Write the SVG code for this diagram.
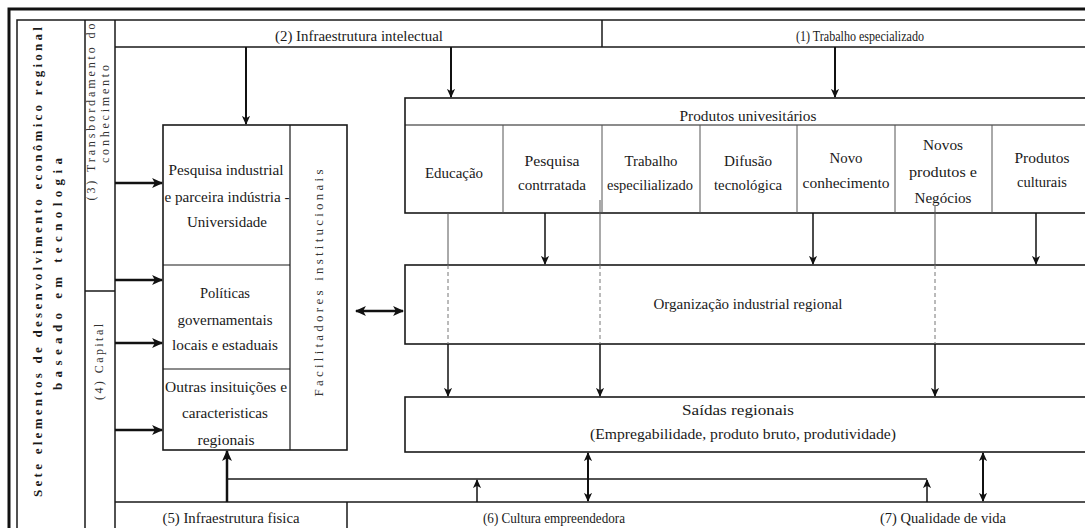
<svg xmlns="http://www.w3.org/2000/svg" width="1085" height="528" viewBox="0 0 1085 528">
  <style>
    .frame{fill:none;stroke:#1a1a1a;stroke-width:1.5}
    .heavy{fill:none;stroke:#111;stroke-width:3}
    .box{fill:#fff;stroke:#1a1a1a;stroke-width:1.6}
    .cell{fill:none;stroke:#555;stroke-width:1}
    .t{font-family:"Liberation Serif","Times New Roman","DejaVu Serif",serif;font-size:15px;fill:#1a1a1a;text-anchor:middle}
    .s{font-size:14px}
    .v{font-family:"Liberation Serif","Times New Roman","DejaVu Serif",serif;font-size:12px;fill:#333;text-anchor:middle}
    .vb{font-family:"Liberation Serif","Times New Roman","DejaVu Serif",serif;font-size:13px;font-weight:bold;fill:#1a1a1a;text-anchor:middle}
    .arr{fill:none;stroke:#111;stroke-width:2;marker-end:url(#ah)}
    .arr-b{fill:none;stroke:#111;stroke-width:2.5;marker-end:url(#ahb)}
    .arr-t{fill:none;stroke:#111;stroke-width:1.5;marker-end:url(#ah)}
    .dbl{fill:none;stroke:#111;stroke-width:2;marker-start:url(#ah);marker-end:url(#ah)}
    .dbl-b{fill:none;stroke:#111;stroke-width:2.5;marker-start:url(#ahb);marker-end:url(#ahb)}
    .link{fill:none;stroke:#555;stroke-width:1}
    .dash{fill:none;stroke:#777;stroke-width:1;stroke-dasharray:4 3}
  </style>
  <defs>
    <marker id="ah" viewBox="0 0 10 10" refX="9" refY="5" markerWidth="9" markerHeight="9" markerUnits="userSpaceOnUse" orient="auto-start-reverse">
      <path d="M0,0.5 L10,5 L0,9.5 L2.5,5 z" fill="#111"/>
    </marker>
    <marker id="ahb" viewBox="0 0 10 10" refX="9" refY="5" markerWidth="11" markerHeight="11" markerUnits="userSpaceOnUse" orient="auto-start-reverse">
      <path d="M0,0.5 L10,5 L0,9.5 L2.5,5 z" fill="#111"/>
    </marker>
  </defs>

  <rect width="1085" height="528" fill="#fff"/>

  <!-- outer frame and bands -->
  <g id="frame">
    <path class="heavy" d="M9,528 V9 H1085"/>
    <path class="frame" d="M17,528 V20 H1085"/>
    <path class="frame" d="M85,20 V528 M115,20 V528 M85,291 H115"/>
    <path class="frame" d="M115,47 H1085 M602,20 V47"/>
    <path class="frame" d="M115,502 H1085 M347,502 V528"/>
  </g>

  <!-- title column -->
  <g id="titulo">
    <text class="vb" transform="translate(37,262) rotate(-90)" dy="0.35em" textLength="470" lengthAdjust="spacing">Sete elementos de desenvolvimento econômico regional</text>
    <text class="vb" transform="translate(57,274) rotate(-90)" dy="0.35em" textLength="232" lengthAdjust="spacing">baseado em tecnologia</text>
  </g>

  <g id="transbordamento">
    <text class="v" transform="translate(91,112) rotate(-90)" dy="0.35em" textLength="177" lengthAdjust="spacing">(3) Transbordamento do</text>
    <text class="v" transform="translate(105,114) rotate(-90)" dy="0.35em" textLength="98" lengthAdjust="spacing">conhecimento</text>
  </g>

  <g id="capital">
    <text class="v" transform="translate(99,362) rotate(-90)" dy="0.35em" textLength="76" lengthAdjust="spacing">(4) Capital</text>
  </g>

  <g id="infra-intelectual">
    <text class="t" x="359" y="41" textLength="168" lengthAdjust="spacingAndGlyphs">(2) Infraestrutura intelectual</text>
  </g>

  <g id="trabalho-especializado">
    <text class="t" x="860" y="41" textLength="128" lengthAdjust="spacingAndGlyphs">(1) Trabalho especializado</text>
  </g>

  <!-- left block: research, policies, other institutions, facilitators -->
  <g id="bloco-institucional">
    <rect class="box" x="163" y="125" width="184" height="325"/>
    <path class="frame" d="M290,125 V450 M163,265 H290 M163,369 H290" style="stroke-width:1.2"/>
    <text class="t" x="226" y="175" textLength="115" lengthAdjust="spacingAndGlyphs">Pesquisa industrial</text>
    <text class="t" x="227" y="202" textLength="125" lengthAdjust="spacingAndGlyphs">e parceira indústria -</text>
    <text class="t" x="227" y="227" textLength="80" lengthAdjust="spacingAndGlyphs">Universidade</text>
    <text class="t" x="225" y="298" textLength="50" lengthAdjust="spacingAndGlyphs">Políticas</text>
    <text class="t" x="225" y="325" textLength="95" lengthAdjust="spacingAndGlyphs">governamentais</text>
    <text class="t" x="225" y="350" textLength="106" lengthAdjust="spacingAndGlyphs">locais e estaduais</text>
    <text class="t" x="226" y="392" textLength="122" lengthAdjust="spacingAndGlyphs">Outras insituições e</text>
    <text class="t" x="225" y="418" textLength="86" lengthAdjust="spacingAndGlyphs">caracteristicas</text>
    <text class="t" x="226" y="445" textLength="57" lengthAdjust="spacingAndGlyphs">regionais</text>
    <text class="v" transform="translate(318,283) rotate(-90)" dy="0.35em" style="font-size:13px" textLength="227" lengthAdjust="spacing">Facilitadores institucionais</text>
  </g>

  <!-- university outputs -->
  <g id="produtos-universitarios">
    <rect class="box" x="405" y="98" width="685" height="115"/>
    <path class="frame" d="M405,125 H1090" style="stroke-width:1.2"/>
    <path class="cell" d="M503,125 V213 M602,125 V213 M700,125 V213 M797,125 V213 M895,125 V213 M992,125 V213"/>
    <text class="t" x="748" y="121" textLength="137" lengthAdjust="spacingAndGlyphs">Produtos univesitários</text>
    <text class="t" x="454" y="178" textLength="58" lengthAdjust="spacingAndGlyphs">Educação</text>
    <text class="t" x="552" y="166" textLength="55" lengthAdjust="spacingAndGlyphs">Pesquisa</text>
    <text class="t" x="552" y="190" textLength="68" lengthAdjust="spacingAndGlyphs">contrratada</text>
    <text class="t" x="651" y="166" textLength="53" lengthAdjust="spacingAndGlyphs">Trabalho</text>
    <text class="t" x="650" y="190" textLength="86" lengthAdjust="spacingAndGlyphs">especilializado</text>
    <text class="t" x="748" y="166" textLength="48" lengthAdjust="spacingAndGlyphs">Difusão</text>
    <text class="t" x="748" y="190" textLength="68" lengthAdjust="spacingAndGlyphs">tecnológica</text>
    <text class="t" x="846" y="163" textLength="33" lengthAdjust="spacingAndGlyphs">Novo</text>
    <text class="t" x="846" y="188" textLength="87" lengthAdjust="spacingAndGlyphs">conhecimento</text>
    <text class="t" x="943" y="150" textLength="40" lengthAdjust="spacingAndGlyphs">Novos</text>
    <text class="t" x="943" y="177" textLength="68" lengthAdjust="spacingAndGlyphs">produtos e</text>
    <text class="t" x="943" y="203" textLength="57" lengthAdjust="spacingAndGlyphs">Negócios</text>
    <text class="t" x="1042" y="163" textLength="55" lengthAdjust="spacingAndGlyphs">Produtos</text>
    <text class="t" x="1042" y="187" textLength="50" lengthAdjust="spacingAndGlyphs">culturais</text>
  </g>

  <g id="organizacao-industrial">
    <rect class="box" x="405" y="265" width="685" height="79"/>
    <text class="t" x="748" y="309" textLength="189" lengthAdjust="spacingAndGlyphs">Organização industrial regional</text>
  </g>

  <g id="saidas-regionais">
    <rect class="box" x="405" y="397" width="685" height="55"/>
    <text class="t" x="738" y="415" textLength="112" lengthAdjust="spacingAndGlyphs">Saídas regionais</text>
    <text class="t" x="743" y="439" textLength="306" lengthAdjust="spacingAndGlyphs">(Empregabilidade, produto bruto, produtividade)</text>
  </g>

  <g id="infra-fisica">
    <text class="t s" x="231" y="523" textLength="137" lengthAdjust="spacingAndGlyphs">(5) Infraestrutura fisica</text>
  </g>

  <g id="cultura-empreendedora">
    <text class="t s" x="554" y="523" textLength="142" lengthAdjust="spacingAndGlyphs">(6) Cultura empreendedora</text>
  </g>

  <g id="qualidade-vida">
    <text class="t s" x="943" y="523" textLength="126" lengthAdjust="spacingAndGlyphs">(7) Qualidade de vida</text>
  </g>

  <!-- connectors -->
  <g id="connectors">
    <!-- from the top bands -->
    <path class="arr" d="M246,47 V124"/>
    <path class="arr" d="M451,47 V97"/>
    <path class="arr" d="M835,47 V97"/>
    <!-- from the left columns into the institutional block -->
    <path class="arr-b" d="M115,183 H162"/>
    <path class="arr-b" d="M115,280 H162"/>
    <path class="arr-b" d="M115,343 H162"/>
    <path class="arr-b" d="M115,430 H162"/>
    <!-- facilitators to industrial organization -->
    <path class="dbl-b" d="M356,311 H403"/>
    <!-- university outputs into industrial organization -->
    <path class="arr-t" d="M545,213 V264"/>
    <path class="arr-t" d="M813,213 V264"/>
    <path class="arr-t" d="M1036,213 V264"/>
    <!-- outputs passing through to regional outputs -->
    <path class="link" d="M448,213 V265 M600,200 V265 M935,205 V265"/>
    <path class="dash" d="M448,265 V344 M600,265 V344 M935,265 V344"/>
    <path class="arr-t" d="M448,344 V396"/>
    <path class="arr-t" d="M600,344 V396"/>
    <path class="arr-t" d="M935,344 V396"/>
    <!-- bottom bands -->
    <path class="arr-b" d="M227,502 V451"/>
    <path class="frame" d="M227,479 H927"/>
    <path class="arr-t" d="M477,502 V480"/>
    <path class="arr-t" d="M927,502 V480"/>
    <path class="dbl" d="M588,453 V501"/>
    <path class="dbl" d="M983,453 V501"/>
  </g>
</svg>
